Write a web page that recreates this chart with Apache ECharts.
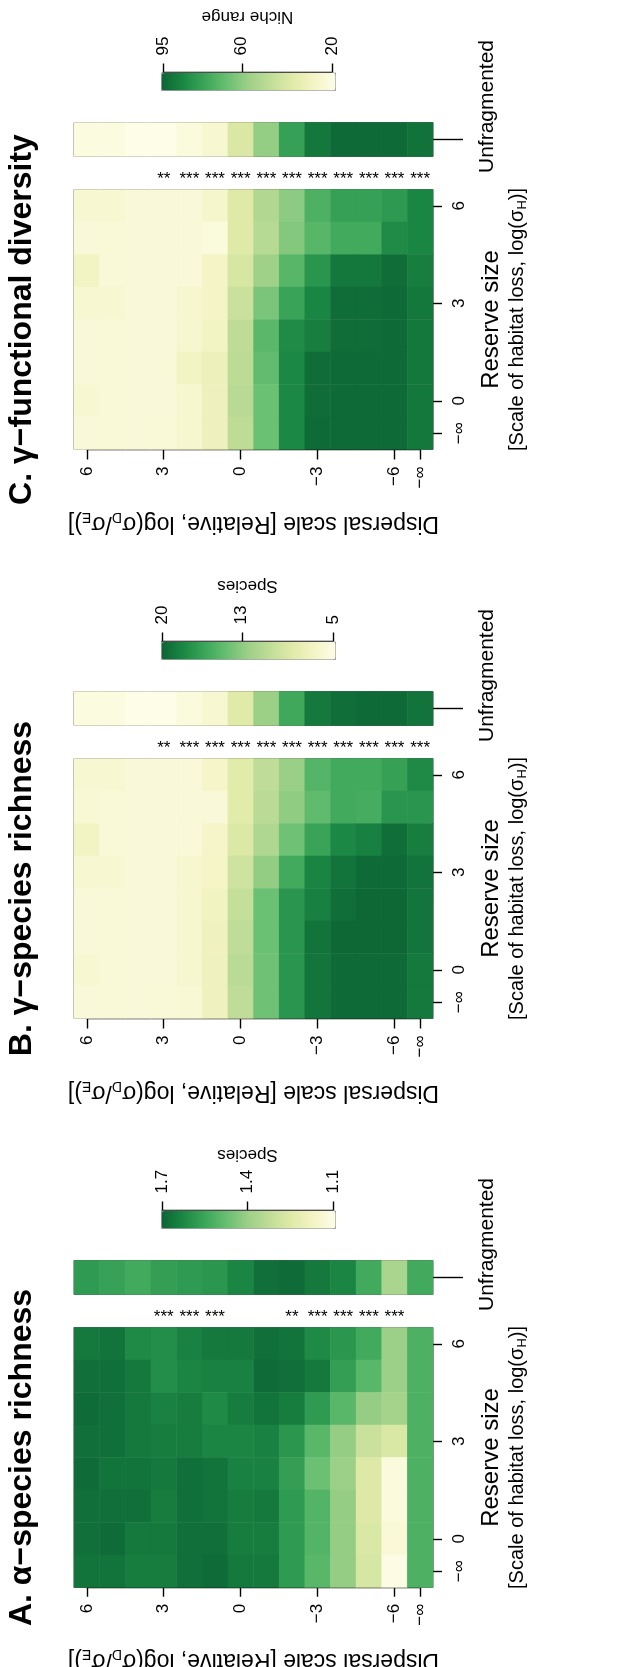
<!DOCTYPE html>
<html>
<head>
<meta charset="utf-8">
<script src="https://cdn.jsdelivr.net/npm/echarts@6/dist/echarts.min.js"></script>
<style>
html,body{margin:0;padding:0;background:#fff;}
#chart{width:619px;height:1667px;}
</style>
</head>
<body>
<div id="chart"></div>
<script>
// ---------- categories & tick labels ----------
const dispersalCategories = ['6','5','4','3','2','1','0','\u22121','\u22122','\u22123','\u22124','\u22125','\u22126','\u2212\u221e'];
const reserveCategories = ['6','5','4','3','2','1','0','\u2212\u221e'];
const dispersalTickValues = [6, 3, 0, -3, -6, -7];   // -7 is the slot of −∞
const reserveTickValues = [6, 3, 0, -1];             // -1 is the slot of −∞

// ---------- A. alpha species richness (rows: reserve 6 ... −∞; cols: dispersal 6 ... −∞) ----------
const alphaRichness = [
  [1.66,1.67,1.62,1.61,1.64,1.66,1.66,1.68,1.67,1.62,1.59,1.54,1.40,1.52],
  [1.68,1.68,1.66,1.61,1.63,1.64,1.64,1.69,1.68,1.66,1.57,1.50,1.40,1.52],
  [1.69,1.68,1.66,1.64,1.65,1.62,1.65,1.67,1.65,1.58,1.50,1.41,1.38,1.52],
  [1.68,1.68,1.66,1.65,1.65,1.63,1.63,1.64,1.59,1.50,1.41,1.30,1.26,1.52],
  [1.69,1.67,1.67,1.66,1.68,1.67,1.64,1.64,1.57,1.47,1.40,1.25,1.12,1.52],
  [1.68,1.68,1.68,1.65,1.68,1.67,1.65,1.66,1.58,1.51,1.41,1.25,1.12,1.52],
  [1.68,1.69,1.66,1.66,1.68,1.68,1.65,1.65,1.58,1.51,1.41,1.26,1.13,1.52],
  [1.67,1.67,1.65,1.65,1.68,1.69,1.66,1.66,1.58,1.50,1.41,1.27,1.10,1.52]
];
const alphaUnfragmented = [1.58,1.56,1.54,1.57,1.58,1.59,1.63,1.68,1.69,1.66,1.63,1.54,1.37,1.54];
const alphaStars = ['','','','***','***','***','','','**','***','***','***','***',''];
const alphaLegendTicks = [1.7, 1.4, 1.1];
const alphaLegendRange = [1.093, 1.704];

// ---------- B. gamma species richness ----------
const gammaRichness = [
  [6.0,6.0,5.6,5.6,5.6,6.5,8.5,10.6,12.6,15.2,16.0,16.0,16.6,18.0],
  [5.9,5.7,5.6,5.6,5.6,5.6,8.5,10.9,12.9,14.7,16.0,15.8,17.3,17.3],
  [6.8,5.7,5.6,5.6,5.6,6.5,8.9,11.4,14.1,16.4,18.1,18.6,19.6,18.7],
  [6.0,6.0,5.6,5.6,6.2,6.6,9.7,12.8,16.0,18.3,19.3,19.8,19.8,19.3],
  [5.6,5.7,5.6,5.6,6.2,7.0,10.3,14.3,17.3,18.6,19.6,19.9,19.9,19.2],
  [5.6,5.7,5.6,5.6,6.2,7.2,10.6,14.3,17.3,19.3,19.9,19.9,19.9,19.2],
  [6.0,5.7,5.6,5.6,6.2,7.2,10.9,14.1,17.3,19.2,19.8,19.8,19.8,19.0],
  [5.6,5.7,5.6,5.7,5.9,7.2,10.6,14.1,17.3,19.2,19.8,19.8,19.8,19.0]
];
const gammaUnfragmented = [5.3,5.3,4.8,4.8,5.4,6.0,8.6,12.5,16.1,19.0,19.6,19.8,19.8,19.3];
const gammaStars = ['','','','**','***','***','***','***','***','***','***','***','***','***'];
const gammaLegendTicks = [20, 13, 5];
const gammaLegendRange = [4.82, 20.09];

// ---------- C. gamma functional diversity ----------
const functionalDiversity = [
  [24.8,24.8,22.5,22.5,22.5,26.3,37.9,51.8,60.3,72.7,78.1,78.1,80.4,86.6],
  [22.5,23.2,22.5,22.5,22.5,21.7,37.9,50.3,61.9,70.4,75.0,75.0,85.1,86.6],
  [28.6,23.2,22.5,22.5,22.5,27.9,41.0,56.5,70.4,82.0,90.5,90.5,93.6,88.9],
  [24.8,24.8,22.5,22.5,25.6,27.9,44.9,63.4,77.3,86.6,93.6,93.6,94.4,90.5],
  [22.5,23.2,22.5,22.5,25.6,28.6,48.0,69.6,85.1,88.9,93.6,93.6,94.4,90.5],
  [22.5,23.2,22.5,22.5,28.6,31.7,48.7,68.1,85.9,93.6,94.4,94.4,94.4,90.5],
  [24.8,23.2,22.5,22.5,25.6,31.0,49.5,66.5,85.9,93.6,94.4,94.4,94.4,90.5],
  [22.5,23.2,22.5,23.2,25.6,31.0,48.0,66.5,85.9,94.4,94.4,94.4,94.4,90.5]
];
const functionalUnfragmented = [20.9,20.9,18.6,18.6,21.7,24.8,39.5,58.8,78.1,90.5,94.4,94.4,94.4,92.0];
const functionalStars = ['','','','**','***','***','***','***','***','***','***','***','***','***'];
const functionalLegendTicks = [95, 60, 20];
const functionalLegendRange = [18.6, 95.9];

// ---------- palette (light -> dark) ----------
const rampColors = ['#fdfde8','#f4f4c5','#e0eaa8','#c0dd98','#9dd088','#68bf72','#3ba659','#1b8744','#0c6534'];

const FONT = 'Liberation Sans, Arial, Helvetica, sans-serif';
const BLACK = '#000';

const panels = [
  {top: 189.5, title: 'C. \u03b3\u2212functional diversity', values: functionalDiversity, unfrag: functionalUnfragmented,
   stars: functionalStars, ticks: functionalLegendTicks, range: functionalLegendRange, legendName: 'Niche range'},
  {top: 758.5, title: 'B. \u03b3\u2212species richness', values: gammaRichness, unfrag: gammaUnfragmented,
   stars: gammaStars, ticks: gammaLegendTicks, range: gammaLegendRange, legendName: 'Species'},
  {top: 1327.5, title: 'A. \u03b1\u2212species richness', values: alphaRichness, unfrag: alphaUnfragmented,
   stars: alphaStars, ticks: alphaLegendTicks, range: alphaLegendRange, legendName: 'Species'}
];

// ---------- layout constants ----------
const HM_LEFT = 74, HM_W = 359, HM_H = 260;
const CB_LEFT = 161, CB_LEN = 174, CB_THICK = 17.5;
const nCols = dispersalCategories.length, nRows = reserveCategories.length;

function minusFmt(v, infSlot) {
  if (v === infSlot) return '\u2212\u221e';
  return v < 0 ? '\u2212' + Math.abs(v) : String(v);
}
function numFmt(v) {
  return v < 0 ? '\u2212' + Math.abs(v) : String(v);
}

const option = {
  animation: false,
  textStyle: {fontFamily: FONT, color: BLACK},
  grid: [], xAxis: [], yAxis: [], series: [], visualMap: [], graphic: []
};

const lineStyle = {color: BLACK, width: 1.4};

panels.forEach((p) => {
  const T = p.top;
  // ---- heatmap grid ----
  const gHeat = option.grid.length;
  option.grid.push({left: HM_LEFT, top: T, width: HM_W, height: HM_H, show: true,
    borderColor: '#666', borderWidth: 1, backgroundColor: 'transparent', containLabel: false});
  const xHeat = option.xAxis.length;
  option.xAxis.push({type: 'category', gridIndex: gHeat, data: dispersalCategories, position: 'bottom', show: false});
  option.xAxis.push({type: 'category', gridIndex: gHeat, data: p.stars, position: 'top',
    axisLine: {show: false}, axisTick: {show: false}, splitLine: {show: false},
    axisLabel: {show: true, interval: 0, fontSize: 17, margin: 10, verticalAlign: 'middle', color: BLACK}});
  const yHeat = option.yAxis.length;
  option.yAxis.push({type: 'category', gridIndex: gHeat, data: reserveCategories, inverse: true, show: false});
  const heatData = [];
  p.values.forEach((row, r) => row.forEach((v, c) => heatData.push([c, r, v])));
  const sHeat = option.series.length;
  option.series.push({type: 'heatmap', xAxisIndex: xHeat, yAxisIndex: yHeat, data: heatData,
    itemStyle: {borderWidth: 0}, emphasis: {disabled: true}, progressive: 0, silent: true});

  // ---- unfragmented bar ----
  const gUnf = option.grid.length;
  option.grid.push({left: HM_LEFT, top: T - 67, width: HM_W, height: 34, show: true,
    borderColor: '#666', borderWidth: 1, backgroundColor: 'transparent'});
  const xUnf = option.xAxis.length;
  option.xAxis.push({type: 'category', gridIndex: gUnf, data: dispersalCategories, show: false});
  const yUnf = option.yAxis.length;
  option.yAxis.push({type: 'category', gridIndex: gUnf, data: ['Unfragmented'], position: 'right',
    axisLine: {show: false}, splitLine: {show: false},
    axisTick: {show: true, length: 30, alignWithLabel: true, lineStyle: lineStyle},
    axisLabel: {show: true, rotate: 90, margin: 44, fontSize: 21, color: BLACK, padding: [0, 0, 0, 66]}});
  const sUnf = option.series.length;
  option.series.push({type: 'heatmap', xAxisIndex: xUnf, yAxisIndex: yUnf,
    data: p.unfrag.map((v, c) => [c, 0, v]),
    itemStyle: {borderWidth: 0}, emphasis: {disabled: true}, progressive: 0, silent: true});

  // ---- dispersal axis (ticks from the -inf slot to 6) ----
  const cell = HM_W / nCols;
  const gDx = option.grid.length;
  option.grid.push({left: HM_LEFT + cell / 2, top: T + HM_H - 1, width: HM_W - cell, height: 1});
  option.xAxis.push({type: 'value', gridIndex: gDx, min: -7, max: 6, inverse: true, position: 'bottom',
    axisLine: {show: true, lineStyle: lineStyle},
    axisTick: {show: true, length: 10, customValues: dispersalTickValues, lineStyle: lineStyle},
    axisLabel: {show: true, customValues: dispersalTickValues, rotate: 90, margin: 17, fontSize: 17, color: BLACK,
      formatter: (v) => minusFmt(v, -7)},
    splitLine: {show: false},
    name: '{a|Dispersal scale [Relative, log(\u03c3}{s|D}{a|/\u03c3}{s|E}{a|)]}',
    nameLocation: 'middle', nameRotate: 180, nameGap: 60,
    nameTextStyle: {rich: {
      a: {fontSize: 23, fontFamily: FONT, color: BLACK, lineHeight: 28},
      s: {fontSize: 14, fontFamily: FONT, color: BLACK, lineHeight: 8, verticalAlign: 'bottom'}}}});
  option.yAxis.push({type: 'value', gridIndex: gDx, show: false});

  // ---- reserve-size axis ----
  const rowH = HM_H / nRows;
  const gRy = option.grid.length;
  option.grid.push({left: HM_LEFT + HM_W - 1, top: T + rowH / 2, width: 1, height: HM_H - rowH});
  option.xAxis.push({type: 'value', gridIndex: gRy, show: false});
  option.yAxis.push({type: 'value', gridIndex: gRy, min: -1, max: 6, position: 'right',
    axisLine: {show: true, lineStyle: lineStyle},
    axisTick: {show: true, length: 10, customValues: reserveTickValues, lineStyle: lineStyle},
    axisLabel: {show: true, customValues: reserveTickValues, rotate: 90, margin: 18, fontSize: 17, color: BLACK,
      formatter: (v) => minusFmt(v, -1)},
    splitLine: {show: false},
    name: '{b|Reserve size}\n{c|[Scale of habitat loss, log(\u03c3}{cs|H}{c|)]}',
    nameLocation: 'middle', nameRotate: 90, nameGap: 45,
    nameTextStyle: {rich: {
      b: {fontSize: 24, fontFamily: FONT, color: BLACK, lineHeight: 27},
      c: {fontSize: 20, fontFamily: FONT, color: BLACK, lineHeight: 24},
      cs: {fontSize: 13, fontFamily: FONT, color: BLACK, lineHeight: 6, verticalAlign: 'bottom'}}}});

  // ---- colour legend ----
  const vmin = p.range[0], vmax = p.range[1];
  const px = (v) => CB_LEFT + (vmax - v) / (vmax - vmin) * CB_LEN;
  const tMax = Math.max(...p.ticks), tMin = Math.min(...p.ticks);
  option.visualMap.push({type: 'continuous', min: vmin, max: vmax, orient: 'horizontal', inverse: true,
    left: CB_LEFT, top: T - 117, itemWidth: CB_THICK, itemHeight: CB_LEN, calculable: false,
    seriesIndex: [sHeat, sUnf], inRange: {color: rampColors}, padding: 0, hoverLink: false,
    borderColor: '#999', borderWidth: 1, text: null});
  const gCb = option.grid.length;
  option.grid.push({left: px(tMax), top: T - 118, width: px(tMin) - px(tMax), height: 1});
  option.xAxis.push({type: 'value', gridIndex: gCb, min: tMin, max: tMax, inverse: true, position: 'top',
    axisLine: {show: true, lineStyle: lineStyle},
    axisTick: {show: true, length: 9, customValues: p.ticks, lineStyle: lineStyle},
    axisLabel: {show: true, customValues: p.ticks, rotate: 90, margin: 16, fontSize: 17, color: BLACK,
      formatter: (v) => numFmt(v)},
    splitLine: {show: false},
    name: p.legendName, nameLocation: 'middle', nameRotate: 180, nameGap: 46,
    nameTextStyle: {fontSize: 17, fontFamily: FONT, color: BLACK}});
  option.yAxis.push({type: 'value', gridIndex: gCb, show: false});

  // ---- panel title ----
  option.graphic.push({type: 'text', x: 22, y: T + HM_H / 2, rotation: Math.PI / 2, silent: true,
    style: {text: p.title, fontSize: 32, fontWeight: 'bold', fontFamily: FONT, fill: BLACK,
      align: 'center', verticalAlign: 'middle'}});
});

const chart = echarts.init(document.getElementById('chart'), null, {renderer: 'canvas'});
chart.setOption(option);
</script>
</body>
</html>
